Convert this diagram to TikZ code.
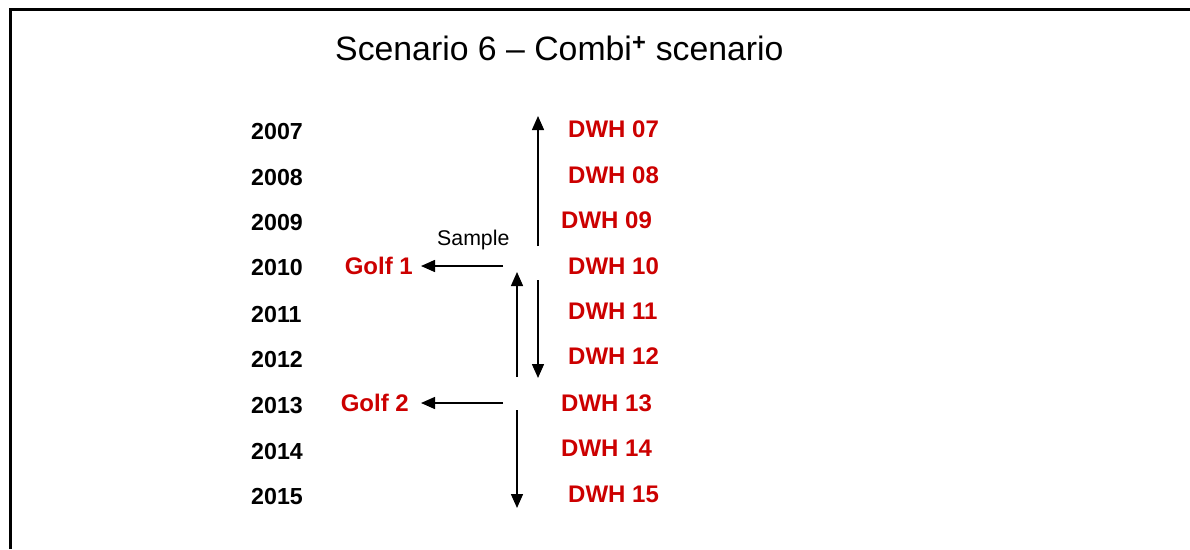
\documentclass[tikz,border=0pt]{standalone}
\usepackage{fontspec}
\setmainfont{Liberation Sans}
\usetikzlibrary{arrows.meta}
\definecolor{dwhred}{RGB}{204,0,0}
\tikzset{
  year/.style={anchor=west, inner sep=0pt, font=\fontsize{23.2}{27}\selectfont\bfseries},
  dwh/.style={anchor=west, inner sep=0pt, text=dwhred, font=\fontsize{24}{28}\selectfont\bfseries},
  flow/.style={line width=1.5pt, -{Triangle[length=14pt,width=12pt]}},
}
\begin{document}
\begin{tikzpicture}[x=1pt, y=-1pt]
\useasboundingbox (0,0) rectangle (1190,549);
% frame
\draw[line width=3pt] (10,549) -- (10,9) -- (1190,9);
% title
\node[anchor=base west, inner sep=0pt, font=\fontsize{33.8}{38}\selectfont] (title) at (335,60) {Scenario 6 -- Combi\textsuperscript{\bfseries+} scenario};
% years
\node[year] (y07) at (251,132) {2007};
\node[year] (y08) at (251,178) {2008};
\node[year] (y09) at (251,223) {2009};
\node[year] (y10) at (251,268) {2010};
\node[year] (y11) at (251,315) {2011};
\node[year] (y12) at (251,360) {2012};
\node[year] (y13) at (251,406) {2013};
\node[year] (y14) at (251,452) {2014};
\node[year] (y15) at (251,497) {2015};
% warehouse versions
\node[dwh] (d07) at (568,129) {DWH 07};
\node[dwh] (d08) at (568,175) {DWH 08};
\node[dwh] (d09) at (561,220) {DWH 09};
\node[dwh] (d10) at (568,266) {DWH 10};
\node[dwh] (d11) at (568,311) {DWH 11};
\node[dwh] (d12) at (568,356) {DWH 12};
\node[dwh] (d13) at (561,403) {DWH 13};
\node[dwh] (d14) at (561,448) {DWH 14};
\node[dwh] (d15) at (568,494) {DWH 15};
% samples
\node[dwh, anchor=east] (g1) at (413,266) {Golf 1};
\node[dwh, anchor=east] (g2) at (409,403) {Golf 2};
\node[anchor=base west, inner sep=0pt, font=\fontsize{21.3}{25}\selectfont] (smp) at (437,245) {Sample};
% arrow end points
\coordinate (upA0) at (538,246);
\coordinate (upA1) at (538,116);
\coordinate (s1) at (503,266);
\coordinate (upB0) at (517,377);
\coordinate (upB1) at (517,272);
\coordinate (dnC0) at (538,280);
\coordinate (dnC1) at (538,378);
\coordinate (s2) at (503,403);
\coordinate (dnD0) at (517,410);
\coordinate (dnD1) at (517,508);
% arrows
\draw[flow] (upA0) -- (upA1);
\draw[flow] (s1) -- (g1.east -| 421,0);
\draw[flow] (upB0) -- (upB1);
\draw[flow] (dnC0) -- (dnC1);
\draw[flow] (s2) -- (g2.east -| 421,0);
\draw[flow] (dnD0) -- (dnD1);
\end{tikzpicture}
\end{document}
